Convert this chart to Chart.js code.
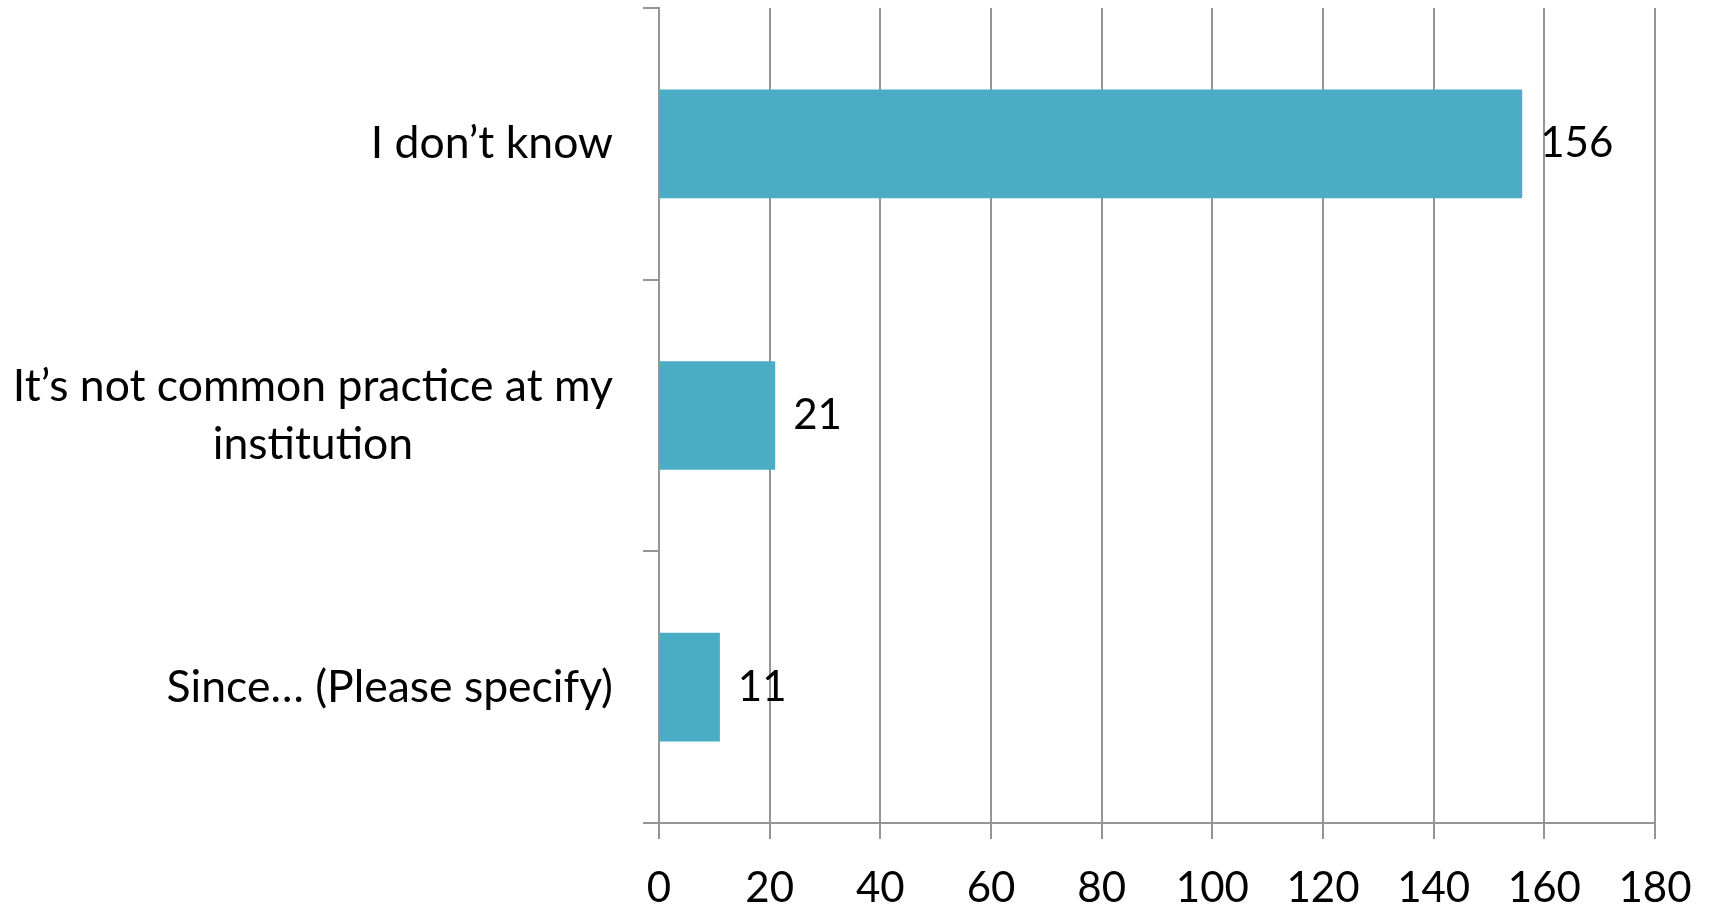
<!DOCTYPE html>
<html>
<head>
<meta charset="utf-8">
<script src="https://cdn.jsdelivr.net/npm/chart.js@4/dist/chart.umd.min.js"></script>
<style>
  html, body { margin: 0; padding: 0; background: #fff; }
  #wrap { width: 1711px; height: 907px; position: relative; }
</style>
</head>
<body>
<div id="wrap"><canvas id="barChart"></canvas></div>
<script>
// Data
const categories = [
  'I don\u2019t know',
  ['It\u2019s not common practice at my', 'institution'],
  'Since\u2026 (Please specify)'
];
const counts = [156, 21, 11];
const xTicks = [0, 20, 40, 60, 80, 100, 120, 140, 160, 180];

const BAR_COLOR = '#4BACC6';
const GRID_COLOR = '#959595';
const FONT = 'Lato';
const CAT_FONT_SIZE = 44.5;
const CAT_LINE_HEIGHT = 58;

// value labels to the right of each bar
const barValueLabels = {
  id: 'barValueLabels',
  afterDatasetsDraw(chart) {
    const ctx = chart.ctx;
    const meta = chart.getDatasetMeta(0);
    ctx.save();
    ctx.font = `42px ${FONT}`;
    ctx.fillStyle = '#000';
    ctx.textAlign = 'left';
    ctx.textBaseline = 'middle';
    meta.data.forEach((bar, i) => {
      ctx.fillText(String(counts[i]), bar.x + 18, bar.y);
    });
    ctx.restore();
  }
};

// category labels: right-aligned block, wrapped lines centred within it (Excel style)
const categoryLabels = {
  id: 'categoryLabels',
  afterDraw(chart) {
    const ctx = chart.ctx;
    const yScale = chart.scales.y;
    const right = yScale.right - 16 - 30;
    ctx.save();
    ctx.font = `${CAT_FONT_SIZE}px ${FONT}`;
    ctx.fillStyle = '#000';
    ctx.textAlign = 'center';
    ctx.textBaseline = 'middle';
    categories.forEach((label, i) => {
      const lines = Array.isArray(label) ? label : [label];
      const w = Math.max(...lines.map(l => ctx.measureText(l).width));
      const cx = right - w / 2;
      const cy = yScale.getPixelForValue(i);
      const y0 = cy - (lines.length - 1) * CAT_LINE_HEIGHT / 2;
      lines.forEach((l, j) => ctx.fillText(l, cx, y0 + j * CAT_LINE_HEIGHT));
    });
    ctx.restore();
  }
};

const ctx = document.getElementById('barChart').getContext('2d');

new Chart(ctx, {
  type: 'bar',
  data: {
    labels: categories,
    datasets: [{
      data: counts,
      backgroundColor: BAR_COLOR,
      borderWidth: 0,
      barPercentage: 0.4,
      categoryPercentage: 1,
    }],
  },
  options: {
    indexAxis: 'y',
    responsive: true,
    maintainAspectRatio: false,
    animation: false,
    layout: { padding: { top: 8, right: 56, bottom: 0, left: 0 } },
    plugins: {
      legend: { display: false },
      tooltip: { enabled: false },
    },
    scales: {
      x: {
        min: 0,
        max: 180,
        afterBuildTicks: scale => { scale.ticks = xTicks.map(v => ({ value: v })); },
        afterFit: scale => {
          scale.height = 84;
          scale.paddingLeft = 0;
          scale.paddingRight = 0;
        },
        border: { display: true, color: GRID_COLOR, width: 2 },
        grid: {
          color: GRID_COLOR,
          lineWidth: 2,
          tickLength: 16,
          tickColor: GRID_COLOR,
        },
        ticks: {
          color: '#000',
          padding: 24,
          font: { family: FONT, size: 42 },
          maxRotation: 0,
        },
      },
      y: {
        offset: true,
        afterFit: scale => {
          scale.width = 659;
          scale.paddingTop = 0;
          scale.paddingBottom = 0;
        },
        border: { display: true, color: GRID_COLOR, width: 2 },
        grid: {
          offset: true,
          drawOnChartArea: false,
          tickLength: 16,
          tickColor: GRID_COLOR,
          lineWidth: 2,
        },
        ticks: { display: false },
      },
    },
  },
  plugins: [barValueLabels, categoryLabels],
});
</script>
</body>
</html>
